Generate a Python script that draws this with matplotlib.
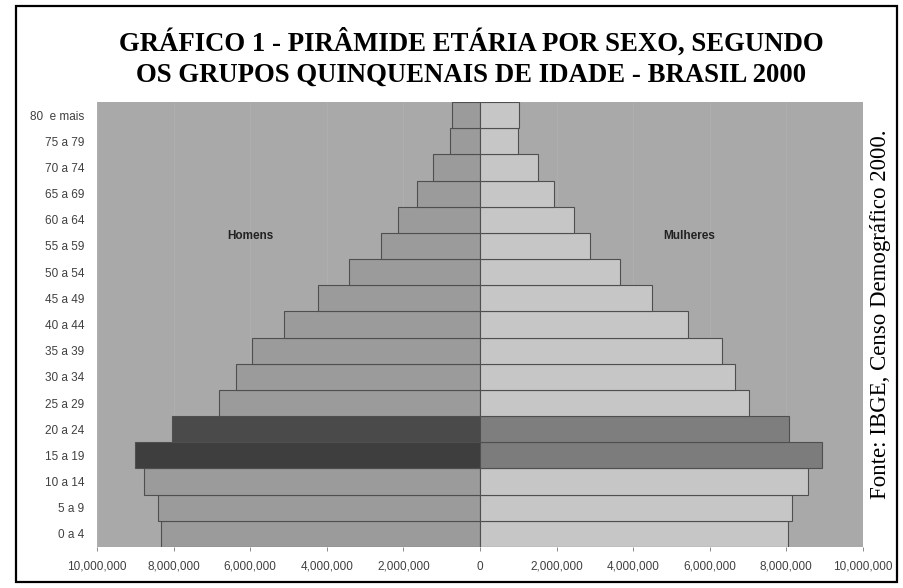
import matplotlib
matplotlib.use("Agg")
import matplotlib.pyplot as plt
from matplotlib.patches import Rectangle
from matplotlib.ticker import FuncFormatter

# Age groups, bottom to top
age_groups = ["0 a 4", "5 a 9", "10 a 14", "15 a 19", "20 a 24", "25 a 29",
              "30 a 34", "35 a 39", "40 a 44", "45 a 49", "50 a 54", "55 a 59",
              "60 a 64", "65 a 69", "70 a 74", "75 a 79", "80  e mais"]

# Population by sex (persons)
homens = [8330000, 8400000, 8780000, 9020000, 8050000, 6810000, 6360000,
          5950000, 5120000, 4220000, 3420000, 2590000, 2150000, 1640000,
          1230000, 780000, 720000]
mulheres = [8050000, 8140000, 8570000, 8920000, 8060000, 7030000, 6670000,
            6330000, 5440000, 4490000, 3660000, 2870000, 2450000, 1940000,
            1520000, 990000, 1010000]

x_ticks = [-10000000, -8000000, -6000000, -4000000, -2000000, 0,
           2000000, 4000000, 6000000, 8000000, 10000000]

title = ("GRÁFICO 1 - PIRÂMIDE ETÁRIA POR SEXO, SEGUNDO\n"
         "OS GRUPOS QUINQUENAIS DE IDADE - BRASIL 2000")
fonte = "Fonte: IBGE, Censo Demográfico 2000."

bg = "#a9a9a9"
men_col = "#9b9b9b"
women_col = "#c6c6c6"
men_hi = {3: "#3e3e3e", 4: "#4a4a4a"}
women_hi = {3: "#7c7c7c", 4: "#7e7e7e"}

fig = plt.figure(figsize=(9.04, 5.88), dpi=100)
fig.patch.set_facecolor("white")

ax = fig.add_axes([0.1073, 0.0697, 0.8473, 0.7568])
ax.set_facecolor(bg)

y = list(range(len(age_groups)))
mc = [men_hi.get(i, men_col) for i in y]
wc = [women_hi.get(i, women_col) for i in y]

for t in x_ticks:
    ax.axvline(t, color="#b0b0b0", lw=0.6, zorder=0.5)

ax.barh(y, [-v for v in homens], height=1.0, color=mc,
        edgecolor="#4f4f4f", linewidth=0.8, zorder=2)
ax.barh(y, mulheres, height=1.0, color=wc,
        edgecolor="#4f4f4f", linewidth=0.8, zorder=2)

ax.set_xlim(-10000000, 10000000)
ax.set_ylim(-0.5, len(age_groups) - 0.5)
ax.set_xticks(x_ticks)
ax.xaxis.set_major_formatter(FuncFormatter(lambda v, p: f"{abs(int(v)):,}"))
ax.set_yticks(y)
ax.set_yticklabels(age_groups)

for s in ax.spines.values():
    s.set_visible(False)
ax.tick_params(axis="x", length=3, width=0.6, color="#777777",
               labelsize=8.5, labelcolor="#404040", pad=7)
ax.tick_params(axis="y", length=0, labelsize=8.5, labelcolor="#404040", pad=9)
for lab in ax.get_xticklabels() + ax.get_yticklabels():
    lab.set_fontfamily("Liberation Sans")

ax.text(-6000000, 11.4, "Homens", fontsize=8.5, fontweight="bold",
        family="Liberation Sans", color="#222222", ha="center", va="center",
        zorder=3)
ax.text(5450000, 11.4, "Mulheres", fontsize=8.5, fontweight="bold",
        family="Liberation Sans", color="#222222", ha="center", va="center",
        zorder=3)

fig.text(0.521, 0.902, title, ha="center", va="center", fontsize=19.3,
         fontweight="bold", family="Liberation Serif", linespacing=1.32)
fig.text(0.974, 0.466, fonte, rotation=90, ha="center", va="center",
         fontsize=16.5, family="Liberation Serif")

fig.patches.append(Rectangle((16 / 904, 6 / 588), 881 / 904, 576 / 588,
                             transform=fig.transFigure, fill=False,
                             edgecolor="black", linewidth=1.6))

fig.savefig("out.png", dpi=100)
